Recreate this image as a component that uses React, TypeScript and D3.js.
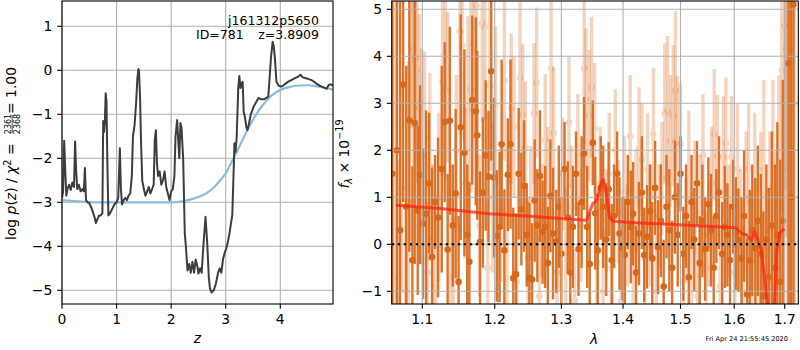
import React from "react";
import * as d3 from "d3";

// ---------- Left panel: p(z) ----------
const pzZ = [0.00,0.02,0.04,0.06,0.08,0.10,0.13,0.16,0.19,0.22,0.24,0.26,0.28,0.31,0.34,0.37,0.40,0.42,0.44,0.47,0.50,0.53,0.56,0.60,0.62,0.65,0.68,0.71,0.74,0.755,0.77,0.785,0.80,0.815,0.83,0.85,0.88,0.92,0.96,1.00,1.03,1.06,1.08,1.10,1.13,1.16,1.19,1.22,1.25,1.28,1.30,1.33,1.36,1.38,1.40,1.41,1.43,1.45,1.47,1.50,1.53,1.56,1.59,1.62,1.65,1.68,1.70,1.72,1.74,1.76,1.79,1.82,1.85,1.88,1.91,1.94,1.97,2.00,2.03,2.06,2.08,2.11,2.13,2.15,2.17,2.19,2.22,2.25,2.27,2.30,2.33,2.36,2.39,2.42,2.45,2.48,2.50,2.53,2.56,2.59,2.63,2.66,2.69,2.71,2.74,2.78,2.82,2.86,2.89,2.92,2.95,2.98,3.01,3.04,3.07,3.10,3.12,3.14,3.16,3.18,3.20,3.23,3.25,3.27,3.29,3.31,3.33,3.35,3.38,3.40,3.42,3.46,3.51,3.56,3.60,3.65,3.70,3.75,3.78,3.80,3.83,3.86,3.88,3.90,3.93,3.97,4.02,4.06,4.12,4.17,4.21,4.27,4.32,4.37,4.41,4.47,4.52,4.57,4.62,4.67,4.72,4.76,4.81,4.85,4.89,4.93,4.97];
const pzLog = [-2.90,-2.75,-1.60,-2.30,-2.85,-2.70,-2.60,-2.72,-2.55,-2.65,-1.62,-2.30,-2.70,-2.60,-2.75,-2.70,-2.75,-2.22,-2.95,-3.00,-3.02,-3.10,-3.20,-3.35,-3.47,-3.38,-3.30,-3.30,-3.25,-1.15,-1.40,-1.20,-0.52,-0.70,-2.00,-3.30,-3.25,-3.15,-3.05,-3.00,-2.90,-1.77,-2.70,-3.05,-2.95,-2.90,-2.95,-2.85,-2.80,-2.40,-1.50,-1.25,-0.70,-0.20,0.03,0.00,-0.60,-1.70,-2.50,-2.70,-2.85,-2.75,-2.65,-2.80,-2.70,-2.60,-1.60,-1.36,-2.10,-2.40,-2.30,-2.60,-2.50,-2.30,-2.65,-2.80,-2.95,-2.75,-2.70,-2.40,-1.50,-1.13,-1.60,-2.00,-1.20,-1.30,-2.00,-3.70,-4.00,-4.55,-4.40,-4.60,-4.35,-4.60,-4.30,-4.45,-4.62,-4.50,-4.60,-4.00,-3.33,-3.90,-4.70,-4.95,-5.05,-5.00,-4.85,-4.60,-4.50,-4.60,-4.30,-4.15,-4.05,-3.90,-3.70,-3.45,-3.30,-2.50,-1.66,-1.85,-1.55,-0.40,-0.13,-0.40,-0.30,-0.26,-0.95,-1.05,-1.30,-1.36,-1.25,-1.00,-0.83,-0.72,-0.63,-0.66,-0.66,-0.62,-0.60,-0.25,0.30,0.65,0.55,0.30,-0.26,-0.35,-0.37,-0.34,-0.28,-0.24,-0.22,-0.18,-0.15,-0.10,-0.16,-0.18,-0.20,-0.22,-0.26,-0.31,-0.35,-0.37,-0.40,-0.42,-0.33,-0.32,-0.35];

const priorZ = [0.0,0.3,0.6,1.0,1.5,2.0,2.2,2.35,2.5,2.65,2.8,2.9,3.0,3.1,3.2,3.3,3.4,3.5,3.6,3.7,3.8,3.9,4.0,4.1,4.2,4.35,4.5,4.65,4.8,4.97];
const priorLog = [-2.95,-2.98,-3.0,-3.0,-3.0,-3.0,-2.98,-2.94,-2.88,-2.79,-2.64,-2.50,-2.34,-2.10,-1.86,-1.60,-1.35,-1.12,-0.92,-0.76,-0.62,-0.52,-0.45,-0.40,-0.37,-0.345,-0.34,-0.36,-0.39,-0.44];

const leftXTicks = [0, 1, 2, 3, 4];
const leftYTicks = [-5, -4, -3, -2, -1, 0, 1];

// ---------- Right panel: spectrum ----------
const darkWave = [1.061,1.067,1.071,1.075,1.079,1.083,1.087,1.090,1.094,1.097,1.101,1.105,1.109,1.113,1.117,1.121,1.126,1.130,1.134,1.137,1.141,1.145,1.149,1.152,1.157,1.161,1.164,1.168,1.173,1.175,1.179,1.183,1.187,1.191,1.195,1.199,1.203,1.207,1.210,1.214,1.219,1.223,1.227,1.231,1.235,1.239,1.243,1.247,1.251,1.255,1.259,1.263,1.267,1.271,1.275,1.279,1.283,1.287,1.292,1.296,1.300,1.305,1.310,1.314,1.318,1.323,1.327,1.332,1.336,1.341,1.345,1.350,1.354,1.358,1.363,1.367,1.372,1.376,1.381,1.385,1.390,1.394,1.399,1.403,1.408,1.413,1.417,1.422,1.427,1.432,1.436,1.441,1.446,1.450,1.455,1.460,1.465,1.470,1.475,1.480,1.485,1.490,1.495,1.500,1.505,1.510,1.515,1.520,1.525,1.530,1.535,1.540,1.545,1.551,1.556,1.561,1.566,1.571,1.577,1.582,1.587,1.592,1.598,1.603,1.608,1.614,1.619,1.625,1.630,1.635,1.641,1.646,1.652,1.657,1.663,1.668,1.674,1.680,1.685,1.691,1.696,1.708,1.713,1.718];
const darkFlux = [1.5,2.0,0.3,3.4,0.8,2.64,-0.34,2.58,0.72,1.48,0.44,0.65,1.3,-0.27,0.9,0.57,1.6,2.6,-0.11,2.63,0.4,1.08,-0.8,2.49,1.95,0.2,-0.37,3.07,2.83,2.32,0.05,1.1,1.89,1.44,3.68,1.42,0.18,0.37,2.13,-0.13,1.48,2.13,-0.72,-0.64,1.5,0.75,1.24,0.2,-0.71,-0.75,0.93,0.4,1.45,0.26,0.37,-0.4,1.03,0.23,0.06,0.8,-0.2,1.6,0.57,-0.6,0.37,1.5,-0.1,0.9,1.93,0.37,-0.42,2.16,0.66,-0.13,1.2,0.8,0.1,1.17,-0.34,0.6,1.5,0.23,-0.09,-0.23,0.9,0.37,0.65,-0.6,0.23,1.1,-0.23,0.16,0.7,-0.3,1.2,-0.06,0.5,-0.9,0.8,0.3,-0.5,1.0,0.2,1.5,-0.2,0.6,-0.7,0.9,0.1,1.3,-0.4,0.5,-0.1,0.85,0.3,-0.5,0.6,1.1,-0.2,0.37,0.2,-0.34,0.8,0.23,0.09,-0.3,0.6,-1.07,-0.34,0.3,-0.09,0.5,-0.2,-1.1,0.1,-0.7,0.4,-0.5,0.2,-0.8,0.5,3.85,1.0,5.1];
const darkErr = [8,7,5,2.5,3.0,2.8,2.0,3.0,1.8,1.9,1.6,2.2,1.5,1.9,1.0,1.7,2.2,1.7,1.6,2.0,1.3,1.8,1.4,2.4,2.2,1.5,1.7,1.8,2.0,1.8,1.5,1.6,1.6,1.4,1.9,1.7,1.4,1.6,1.8,1.3,1.2,1.8,1.5,1.3,1.4,1.2,1.4,1.1,1.6,1.2,1.3,1.2,1.4,1.1,1.3,1.2,1.2,1.4,1.1,1.3,1.2,1.0,1.2,1.1,1.3,0.9,1.0,1.4,1.2,1.3,1.1,0.9,1.2,1.2,1.1,1.3,1.2,1.0,1.2,1.1,0.9,1.2,1.1,1.2,1.0,1.2,1.1,1.0,1.1,1.2,1.0,1.1,1.0,1.2,1.0,1.0,1.2,1.0,1.1,1.3,1.0,1.2,1.1,0.8,1.0,1.1,1.2,1.0,1.1,0.9,1.0,1.2,1.1,1.0,1.2,1.1,1.0,1.2,1.1,1.3,1.1,1.2,1.0,1.2,1.1,1.3,1.4,1.2,1.5,1.4,1.5,1.6,1.7,1.8,1.6,1.9,2.0,2.2,2.4,2.6,3.0,6,8,8];

const lightWave = [1.064,1.069,1.073,1.078,1.082,1.086,1.088,1.091,1.093,1.096,1.099,1.103,1.107,1.110,1.114,1.118,1.122,1.127,1.131,1.134,1.138,1.142,1.146,1.151,1.154,1.158,1.162,1.166,1.170,1.174,1.178,1.182,1.186,1.190,1.193,1.197,1.201,1.205,1.209,1.214,1.218,1.224,1.228,1.232,1.237,1.241,1.245,1.249,1.253,1.258,1.262,1.266,1.270,1.275,1.279,1.284,1.288,1.293,1.297,1.302,1.307,1.312,1.316,1.321,1.326,1.331,1.336,1.339,1.344,1.348,1.353,1.357,1.362,1.367,1.372,1.377,1.382,1.387,1.392,1.397,1.402,1.407,1.412,1.417,1.422,1.427,1.432,1.437,1.442,1.447,1.452,1.457,1.462,1.467,1.472,1.477,1.482,1.487,1.491,1.494,1.500,1.505,1.510,1.515,1.520,1.526,1.531,1.536,1.541,1.547,1.552,1.557,1.562,1.568,1.573,1.579,1.584,1.590,1.595,1.601,1.606,1.612,1.617,1.623,1.628,1.634,1.640,1.646,1.652,1.658,1.664,1.670,1.676,1.682,1.688,1.694,1.700,1.703,1.706,1.712,1.720];
const lightFlux = [2.5,-0.7,1.2,-1.0,0.9,5.07,4.15,3.96,3.7,2.9,1.87,2.3,-0.6,1.65,0.1,-0.9,1.0,3.46,3.28,3.34,0.2,-0.7,2.0,4.53,4.23,1.3,2.85,3.3,4.25,5.08,0.4,4.7,4.63,-0.5,3.37,1.0,2.93,-1.0,0.7,3.48,0.0,2.89,2.5,-0.8,3.55,2.76,2.07,-0.3,0.9,2.78,3.44,-1.1,0.5,2.22,1.2,3.74,2.37,-0.6,0.3,1.5,-0.2,2.6,0.8,-1.2,1.9,0.4,3.74,3.09,2.74,3.34,2.46,-0.4,1.3,-1.0,0.5,1.5,-0.5,2.0,0.7,-1.2,1.1,0.2,2.3,-0.7,0.9,2.04,1.8,-0.3,1.6,0.4,2.35,-1.0,0.6,1.4,2.78,2.83,2.2,2.74,3.27,2.18,2.13,-0.8,0.3,1.64,-0.2,1.0,-1.1,0.7,1.9,-0.5,0.2,1.3,2.33,1.88,-0.9,1.85,2.15,0.5,1.86,-0.6,1.6,0.3,-1.0,0.9,1.6,-0.4,1.2,-1.2,0.6,1.6,-0.8,0.3,1.2,-0.5,0.9,3.7,4.65,4.16,1.6,2.0,3.0];
const lightErr = [6,2.5,2.2,2.0,3.0,2.6,2.5,2.2,2.4,2.0,2.3,1.8,1.5,2.0,1.6,1.4,1.8,2.0,1.9,1.6,1.5,1.3,1.6,2.2,2.0,1.6,2.0,2.2,2.0,2.2,1.5,2.1,2.0,1.4,1.8,1.6,1.7,1.3,1.5,1.7,1.4,1.6,1.5,1.2,1.6,1.5,1.4,1.3,1.2,1.5,1.6,1.3,1.2,1.4,1.3,1.7,1.4,1.2,1.3,1.2,1.4,1.4,1.3,1.1,1.3,1.2,1.6,1.5,1.4,1.5,1.4,1.2,1.2,1.3,1.1,1.3,1.2,1.3,1.1,1.2,1.2,1.1,1.3,1.2,1.1,1.3,1.2,1.1,1.2,1.3,1.4,1.2,1.1,1.2,1.5,1.6,1.4,1.5,1.7,1.4,1.3,1.2,1.1,1.2,1.3,1.2,1.1,1.2,1.3,1.2,1.1,1.2,1.4,1.3,1.2,1.3,1.4,1.2,1.3,1.2,1.4,1.3,1.4,1.5,1.4,1.5,1.6,1.7,1.8,1.9,2.0,2.1,2.3,2.5,2.7,3.0,3.5,4,5,8,8];

const modelWave = [1.066,1.124,1.192,1.247,1.300,1.340,1.350,1.356,1.362,1.367,1.372,1.377,1.383,1.420,1.469,1.540,1.603,1.615,1.624,1.633,1.640,1.646,1.653,1.659,1.665,1.672,1.678,1.684,1.690,1.695,1.700];
const modelFlux = [0.83,0.76,0.65,0.60,0.55,0.51,0.87,0.92,1.25,1.38,1.10,0.60,0.49,0.46,0.43,0.39,0.35,0.23,0.20,0.09,0.26,0.09,-0.13,-0.70,-1.26,-1.6,-1.5,-0.13,0.23,0.30,0.32];

const rightXTicks = [1.1, 1.2, 1.3, 1.4, 1.5, 1.6, 1.7];
const rightYTicks = [-1, 0, 1, 2, 3, 4, 5];

const FONT = "DejaVu Sans";
const GRID = "#b0b0b0";
const DARK = "#d8691c";

export default function App() {
  const L = { x0: 62, x1: 333, y0: 1, y1: 304 };
  const R = { x0: 391.7, x1: 798.3, y0: 1, y1: 304 };

  const xL = d3.scaleLinear().domain([0, 4.966]).range([L.x0, L.x1]);
  const yL = d3.scaleLinear().domain([-5.311, 1.575]).range([L.y1, L.y0]);
  const xR = d3.scaleLog().domain([1.0603, 1.728]).range([R.x0, R.x1]);
  const yR = d3.scaleLinear().domain([-1.27, 5.177]).range([R.y1, R.y0]);

  const pzLine = d3.line<number>().x((_, i) => xL(pzZ[i])).y((d) => yL(d));
  const priorLine = d3.line<number>().curve(d3.curveMonotoneX).x((_, i) => xL(priorZ[i])).y((d) => yL(d));
  const modelLine = d3.line<number>().x((_, i) => xR(modelWave[i])).y((d) => yR(d));

  const tick = 4.86;
  const fs = 13.9;
  const tfs = 12.5;

  return (
    <svg width={800} height={350} style={{ position: "absolute", left: 0, top: 0, background: "#fff" }} fontFamily={FONT}>
      <defs>
        <clipPath id="clipL"><rect x={L.x0} y={L.y0} width={L.x1 - L.x0} height={L.y1 - L.y0} /></clipPath>
        <clipPath id="clipR"><rect x={R.x0} y={R.y0} width={R.x1 - R.x0} height={R.y1 - R.y0} /></clipPath>
      </defs>
      <rect width={800} height={350} fill="#fff" />

      {/* ---------- LEFT PANEL ---------- */}
      <g>
        {leftXTicks.map((t) => (
          <line key={"lgx" + t} x1={xL(t)} x2={xL(t)} y1={L.y0} y2={L.y1} stroke={GRID} strokeWidth={1.1} />
        ))}
        {leftYTicks.map((t) => (
          <line key={"lgy" + t} x1={L.x0} x2={L.x1} y1={yL(t)} y2={yL(t)} stroke={GRID} strokeWidth={1.1} />
        ))}
        <g clipPath="url(#clipL)">
          <path d={priorLine(priorLog) || ""} fill="none" stroke="#8fbbd9" strokeWidth={2.2} />
          <path d={pzLine(pzLog) || ""} fill="none" stroke="#3d3d3d" strokeWidth={2} strokeLinejoin="round" />
        </g>
        <rect x={L.x0} y={L.y0} width={L.x1 - L.x0} height={L.y1 - L.y0} fill="none" stroke="#000" strokeWidth={1.1} />
        {leftXTicks.map((t) => (
          <g key={"ltx" + t}>
            <line x1={xL(t)} x2={xL(t)} y1={L.y1} y2={L.y1 + tick} stroke="#000" strokeWidth={1.1} />
            <text x={xL(t)} y={L.y1 + 20} fontSize={fs} textAnchor="middle">{t}</text>
          </g>
        ))}
        {leftYTicks.map((t) => (
          <g key={"lty" + t}>
            <line x1={L.x0 - tick} x2={L.x0} y1={yL(t)} y2={yL(t)} stroke="#000" strokeWidth={1.1} />
            <text x={L.x0 - 9.7} y={yL(t) + 5} fontSize={fs} textAnchor="end">{t < 0 ? "\u2212" + Math.abs(t) : t}</text>
          </g>
        ))}
        <text x={(L.x0 + L.x1) / 2} y={343} fontSize={fs} textAnchor="middle" fontStyle="italic">z</text>
        {/* title */}
        <text x={319} y={25} fontSize={tfs} textAnchor="end">j161312p5650</text>
        <text x={196} y={39} fontSize={tfs} textAnchor="start">ID=781</text>
        <text x={319} y={39} fontSize={tfs} textAnchor="end">z=3.8909</text>
        {/* y label */}
        <g transform="translate(16,0) rotate(-90)">
          <text x={-240} y={0} fontSize={fs} textAnchor="start">
            <tspan>log </tspan>
            <tspan fontStyle="italic">p</tspan>
            <tspan>(</tspan>
            <tspan fontStyle="italic">z</tspan>
            <tspan>) / </tspan>
            <tspan fontStyle="italic">χ</tspan>
            <tspan fontSize={9.7} dy={-5}>2</tspan>
            <tspan dy={5}> =</tspan>
          </text>
          <text x={-124} y={-5.5} fontSize={8} textAnchor="middle">2361</text>
          <line x1={-133} x2={-115} y1={-3.8} y2={-3.8} stroke="#000" strokeWidth={0.7} />
          <text x={-124} y={3.5} fontSize={8} textAnchor="middle">2368</text>
          <text x={-67} y={0} fontSize={fs} textAnchor="end">= 1.00</text>
        </g>
      </g>

      {/* ---------- RIGHT PANEL ---------- */}
      <g>
        <g clipPath="url(#clipR)">
          {lightWave.map((w, i) => (
            <g key={"lb" + i} opacity={0.28}>
              <line x1={xR(w)} x2={xR(w)} y1={yR(lightFlux[i] - lightErr[i])} y2={yR(lightFlux[i] + lightErr[i])} stroke={DARK} strokeWidth={3.4} />
              <circle cx={xR(w)} cy={yR(lightFlux[i])} r={3.3} fill={DARK} />
            </g>
          ))}
          {darkWave.map((w, i) => (
            <g key={"db" + i}>
              <line x1={xR(w)} x2={xR(w)} y1={yR(darkFlux[i] - darkErr[i])} y2={yR(darkFlux[i] + darkErr[i])} stroke={DARK} strokeWidth={2.4} opacity={0.92} />
              <circle cx={xR(w)} cy={yR(darkFlux[i])} r={3.3} fill={DARK} />
            </g>
          ))}
        </g>
        {rightXTicks.map((t) => (
          <line key={"rgx" + t} x1={xR(t)} x2={xR(t)} y1={R.y0} y2={R.y1} stroke={GRID} strokeWidth={1.1} />
        ))}
        {rightYTicks.map((t) => (
          <line key={"rgy" + t} x1={R.x0} x2={R.x1} y1={yR(t)} y2={yR(t)} stroke={GRID} strokeWidth={1.1} />
        ))}
        <g clipPath="url(#clipR)">
          <path d={modelLine(modelFlux) || ""} fill="none" stroke="#ff2010" strokeOpacity={0.72} strokeWidth={3} strokeLinejoin="round" />
          <line x1={R.x0} x2={R.x1} y1={yR(0)} y2={yR(0)} stroke="#000" strokeWidth={2} strokeDasharray="2.5,3.5" />
        </g>
        <rect x={R.x0} y={R.y0} width={R.x1 - R.x0} height={R.y1 - R.y0} fill="none" stroke="#000" strokeWidth={1.1} />
        {rightXTicks.map((t) => (
          <g key={"rtx" + t}>
            <line x1={xR(t)} x2={xR(t)} y1={R.y1} y2={R.y1 + tick} stroke="#000" strokeWidth={1.1} />
            <text x={xR(t)} y={R.y1 + 20} fontSize={fs} textAnchor="middle">{t.toFixed(1)}</text>
          </g>
        ))}
        {rightYTicks.map((t) => (
          <g key={"rty" + t}>
            <line x1={R.x0 - tick} x2={R.x0} y1={yR(t)} y2={yR(t)} stroke="#000" strokeWidth={1.1} />
            <text x={R.x0 - 9.7} y={yR(t) + 5} fontSize={fs} textAnchor="end">{t < 0 ? "\u2212" + Math.abs(t) : t}</text>
          </g>
        ))}
        <text x={594} y={344} fontSize={fs} textAnchor="middle" fontStyle="italic">λ</text>
        <g transform="translate(348.5,0) rotate(-90)">
          <text x={-154} y={0} fontSize={fs} textAnchor="middle">
            <tspan fontStyle="italic">f</tspan>
            <tspan fontStyle="italic" fontSize={9.7} dy={3}>λ</tspan>
            <tspan dy={-3}> × 10</tspan>
            <tspan fontSize={9.7} dy={-6}>−19</tspan>
          </text>
        </g>
        <text x={788} y={341} fontSize={6.6} textAnchor="end">Fri Apr 24 21:55:45 2020</text>
      </g>
    </svg>
  );
}
